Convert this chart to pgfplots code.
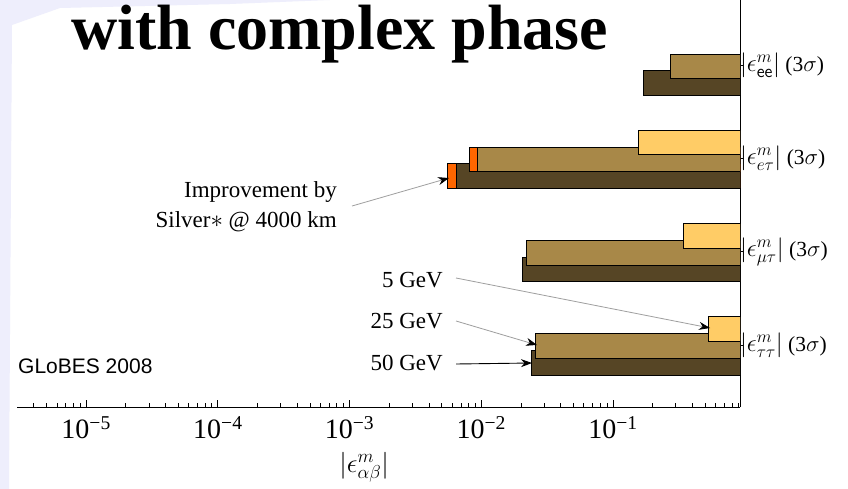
\documentclass[border=0pt]{standalone}
\usepackage{graphicx}
\usepackage{pgfplots}
\pgfplotsset{compat=1.18}
\usetikzlibrary{arrows.meta}
\usepackage{fontspec}
\setmainfont{Liberation Serif}
\newfontfamily\arialfont{Liberation Sans}
\definecolor{barYel}{RGB}{255,204,102}
\definecolor{barTan}{RGB}{168,136,72}
\definecolor{barDark}{RGB}{86,69,37}
\definecolor{barOrng}{RGB}{255,102,0}
\definecolor{lav}{RGB}{238,238,252}
\newcommand{\yl}[1]{\scalebox{1.2}{$|\epsilon^{m}_{#1}|$}~(3\scalebox{1.1}{$\sigma$})}
\newcommand{\tl}[1]{\fontsize{28}{30}\selectfont 10\textsuperscript{−#1}}
\begin{document}
\begin{tikzpicture}
\useasboundingbox (0pt,0pt) rectangle (848pt,-489pt);
\fill[white] (0pt,0pt) rectangle (848pt,-489pt);
\fill[lav] (0pt,0pt) -- (330pt,0pt) -- (230pt,-4pt) -- (60pt,-8pt) -- (12pt,-25pt) -- (9pt,-489pt) -- (0pt,-489pt) -- cycle;
\begin{axis}[
  at={(17.3pt,-407pt)}, anchor=south west,
  scale only axis, width=722.7pt, height=407pt,
  xmode=log, xmin=3e-6, xmax=0.92,
  ymin=-0.664, ymax=3.7,
  axis x line*=bottom, axis y line*=right,
  axis line style={line width=1pt},
  xtick align=inside, ytick align=center,
  major tick length=7pt, minor tick length=4pt,
  every tick/.style={black, line width=0.8pt},
  xtick={1e-5,1e-4,1e-3,1e-2,1e-1},
  xticklabels={{\tl{5}},{\tl{4}},{\tl{3}},{\tl{2}},{\tl{1}}},
  minor xtick={4e-6,5e-6,6e-6,7e-6,8e-6,9e-6,
    2e-5,3e-5,4e-5,5e-5,6e-5,7e-5,8e-5,9e-5,
    2e-4,3e-4,4e-4,5e-4,6e-4,7e-4,8e-4,9e-4,
    2e-3,3e-3,4e-3,5e-3,6e-3,7e-3,8e-3,9e-3,
    2e-2,3e-2,4e-2,5e-2,6e-2,7e-2,8e-2,9e-2,
    2e-1,3e-1,4e-1,5e-1,6e-1,7e-1,8e-1,9e-1},
  ytick={0,1,2,3},
  yticklabels={{\yl{\tau\tau}},{\yl{\mu\tau}},{\yl{e\tau}},{\yl{\mathsf{ee}}}},
  yticklabel style={font=\fontsize{21.5}{24}\selectfont, xshift=-7pt},
  every x tick label/.append style={font=\fontsize{28}{30}\selectfont, inner sep=3pt, yshift=-6pt},
  xlabel={\scalebox{1.3}{$|\epsilon^{m}_{\alpha\beta}|$}},
  xlabel style={font=\fontsize{20}{24}\selectfont, at={(axis description cs:0.48,-0.148)}, anchor=center},
  clip=true,
]
% 50 GeV with Silver* improvement
\addplot[xbar, bar width=24.5pt, bar shift=-17.7pt, fill=barOrng, draw=black, line width=1pt] coordinates {(0.00552,2)};
\addplot[xbar, bar width=24.5pt, bar shift=-17.7pt, fill=barDark, draw=black, line width=1pt] coordinates {(0.169,3) (0.00646,2) (0.0204,1) (0.0239,0)};
% 25 GeV with Silver* improvement
\addplot[xbar, bar width=24.5pt, bar shift=-1pt, fill=barOrng, draw=black, line width=1pt] coordinates {(0.0081,2)};
\addplot[xbar, bar width=24.5pt, bar shift=-1pt, fill=barTan, draw=black, line width=1pt] coordinates {(0.275,3) (0.0093,2) (0.0219,1) (0.0257,0)};
% 5 GeV
\addplot[xbar, bar width=24.5pt, bar shift=15.9pt, fill=barYel, draw=black, line width=1pt] coordinates {(0.155,2) (0.345,1) (0.533,0)};
\end{axis}
% title
\node[anchor=base west, inner sep=0pt, font=\fontsize{64}{70}\selectfont\bfseries] at (71pt,-50pt) {with complex phase};
% annotations
\node[anchor=base east, inner sep=0pt, font=\fontsize{23}{30}\selectfont] at (337pt,-197pt) {Improvement by};
\node[anchor=base east, inner sep=0pt, font=\fontsize{23}{30}\selectfont] at (337pt,-227pt) {Silver$\ast$ @ 4000 km};
\node[anchor=base east, inner sep=0pt, font=\fontsize{23}{30}\selectfont] at (443pt,-287pt) {5 GeV};
\node[anchor=base east, inner sep=0pt, font=\fontsize{23}{30}\selectfont] at (443pt,-328pt) {25 GeV};
\node[anchor=base east, inner sep=0pt, font=\fontsize{23}{30}\selectfont] at (443pt,-370pt) {50 GeV};
\node[anchor=base west, inner sep=0pt, font=\fontsize{21}{24}\selectfont\arialfont] at (18pt,-373pt) {GLoBES 2008};
\draw[gray!75, line width=0.8pt, -{Stealth[length=11pt,width=8pt,color=black]}] (352pt,-206pt) -- (449pt,-178pt);
\draw[gray!75, line width=0.8pt, -{Stealth[length=11pt,width=8pt,color=black]}] (456pt,-278pt) -- (710pt,-328pt);
\draw[gray!75, line width=0.8pt, -{Stealth[length=11pt,width=8pt,color=black]}] (456pt,-321pt) -- (537pt,-345pt);
\draw[black, line width=0.9pt, -{Stealth[length=11pt,width=8pt,color=black]}] (456pt,-364pt) -- (532pt,-363pt);
\end{tikzpicture}
\end{document}
